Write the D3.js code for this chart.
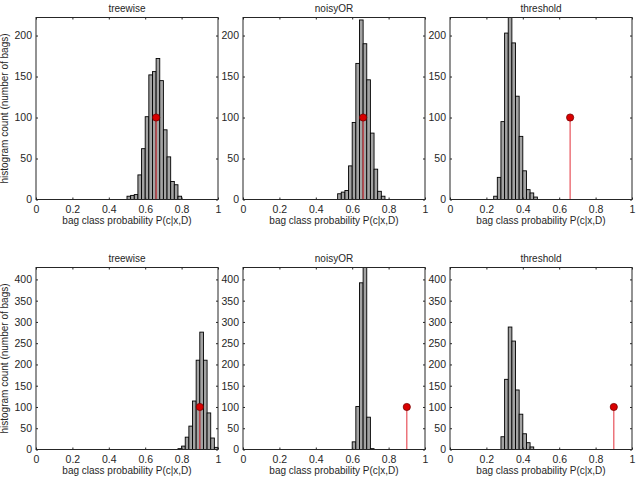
<!DOCTYPE html>
<html>
<head>
<meta charset="utf-8">
<script src="https://cdn.jsdelivr.net/npm/d3@7"></script>
<style>
  body { margin: 0; background: #fff; }
  svg text { font-family: "Liberation Sans", Arial, sans-serif; fill: #262626; }
</style>
</head>
<body>
<div id="chart"></div>
<script>
// panel titles, one per column
var titles = ['treewise', 'noisyOR', 'threshold'];

// y limits and ticks per row
var rowYMax = [222, 428];
var rowYTicks = [
  [0, 50, 100, 150, 200],
  [0, 50, 100, 150, 200, 250, 300, 350, 400]
];
var xTicks = [0, 0.2, 0.4, 0.6, 0.8, 1];
var binWidth = 0.02;

// red stem (true bag probability) per row
var stemX = [0.66, 0.9];
var stemY = 100;

// histogram bin centres and counts, row 1
var topTreeX   = [0.51, 0.53, 0.55, 0.57, 0.59, 0.61, 0.63, 0.65, 0.67, 0.69, 0.71, 0.73, 0.75, 0.77, 0.79];
var topTreeN   = [4, 5, 6, 30, 62, 101, 152, 156, 172, 145, 85, 52, 22, 18, 4];
var topNoisyX  = [0.53, 0.55, 0.57, 0.59, 0.61, 0.63, 0.65, 0.67, 0.69, 0.71, 0.73, 0.75, 0.77];
var topNoisyN  = [7, 9, 11, 41, 94, 166, 219, 190, 146, 81, 37, 10, 4];
var topThreshX = [0.25, 0.27, 0.29, 0.31, 0.33, 0.35, 0.37, 0.39, 0.41, 0.43, 0.45, 0.47];
var topThreshN = [4, 27, 95, 203, 245, 191, 126, 77, 35, 12, 8, 3];

// row 2
var botTreeX   = [0.79, 0.81, 0.83, 0.85, 0.87, 0.89, 0.91, 0.93, 0.95, 0.97, 0.99];
var botTreeN   = [2, 8, 29, 55, 114, 210, 276, 210, 86, 27, 5];
var botNoisyX  = [0.61, 0.63, 0.65, 0.67, 0.69, 0.71];
var botNoisyN  = [18, 101, 392, 470, 76, 2];
var botThreshX = [0.29, 0.31, 0.33, 0.35, 0.37, 0.39, 0.41, 0.43, 0.45];
var botThreshN = [30, 165, 288, 255, 140, 83, 37, 16, 6];

var hists = [
  [[topTreeX, topTreeN], [topNoisyX, topNoisyN], [topThreshX, topThreshN]],
  [[botTreeX, botTreeN], [botNoisyX, botNoisyN], [botThreshX, botThreshN]]
];

var W = 641, H = 481;
var colLeft = [36, 243, 450], plotW = 182;
var rowTop = [17.5, 267.5], plotH = 182;
var tickLen = 2;
var fmt = d3.format('~g');

var svg = d3.select('#chart').append('svg')
  .attr('width', W)
  .attr('height', H);

for (var r = 0; r < 2; r++) {
  for (var c = 0; c < 3; c++) {
    drawPanel(r, c);
  }
}

function drawPanel(r, c) {
  var x = d3.scaleLinear().domain([0, 1]).range([0, plotW]);
  var y = d3.scaleLinear().domain([0, rowYMax[r]]).range([plotH, 0]);
  var id = 'clip-' + r + '-' + c;

  var g = svg.append('g')
    .attr('transform', 'translate(' + colLeft[c] + ',' + rowTop[r] + ')');

  g.append('clipPath').attr('id', id)
    .append('rect')
      .attr('width', plotW)
      .attr('height', plotH);

  var bins = hists[r][c][0].map(function(cx, i) {
    return { x: cx, n: hists[r][c][1][i] };
  });

  var plot = g.append('g').attr('clip-path', 'url(#' + id + ')');

  plot.selectAll('rect.bar').data(bins)
    .enter()
      .append('rect')
        .attr('class', 'bar')
        .attr('x', function(d) { return x(d.x - binWidth / 2); })
        .attr('width', function(d) { return x(binWidth) - x(0); })
        .attr('y', function(d) { return y(d.n); })
        .attr('height', function(d) { return y(0) - y(d.n); })
        .attr('fill', '#a3a3a3')
        .attr('stroke', '#000')
        .attr('stroke-width', 0.9);

  // stem
  plot.append('line')
    .attr('x1', x(stemX[r])).attr('x2', x(stemX[r]))
    .attr('y1', y(0)).attr('y2', y(stemY))
    .attr('stroke', '#e8525a')
    .attr('stroke-width', 1.2);
  plot.append('circle')
    .attr('cx', x(stemX[r]))
    .attr('cy', y(stemY))
    .attr('r', 3.6)
    .attr('fill', '#d90000')
    .attr('stroke', '#7a0000')
    .attr('stroke-width', 0.8);

  // axes, ticks pointing inwards on all four sides
  var axB = g.append('g').attr('transform', 'translate(0,' + plotH + ')')
    .call(d3.axisBottom(x).tickValues(xTicks).tickFormat(fmt)
      .tickSizeInner(-tickLen).tickSizeOuter(0).tickPadding(5));
  var axT = g.append('g')
    .call(d3.axisTop(x).tickValues(xTicks).tickFormat('')
      .tickSizeInner(-tickLen).tickSizeOuter(0));
  var axL = g.append('g')
    .call(d3.axisLeft(y).tickValues(rowYTicks[r])
      .tickSizeInner(-tickLen).tickSizeOuter(0).tickPadding(4));
  var axR = g.append('g').attr('transform', 'translate(' + plotW + ',0)')
    .call(d3.axisRight(y).tickValues(rowYTicks[r]).tickFormat('')
      .tickSizeInner(-tickLen).tickSizeOuter(0));

  [axB, axT, axL, axR].forEach(function(a) {
    a.select('.domain').remove();
    a.selectAll('line').attr('stroke', '#262626');
    a.selectAll('text').attr('font-size', 10.5).attr('fill', '#262626');
  });
  axB.selectAll('text').attr('dy', '0.8em');

  g.append('rect')
    .attr('width', plotW)
    .attr('height', plotH)
    .attr('fill', 'none')
    .attr('stroke', '#262626')
    .attr('stroke-width', 1);

  g.append('text')
    .attr('x', plotW / 2)
    .attr('y', -6)
    .attr('text-anchor', 'middle')
    .attr('font-size', 10)
    .text(titles[c]);

  g.append('text')
    .attr('x', plotW / 2)
    .attr('y', plotH + 24)
    .attr('text-anchor', 'middle')
    .attr('font-size', 10)
    .text('bag class probability P(c|x,D)');

  if (c === 0) {
    g.append('text')
      .attr('transform', 'translate(' + (-28) + ',' + (plotH / 2) + ') rotate(-90)')
      .attr('text-anchor', 'middle')
      .attr('font-size', 10)
      .text('histogram count (number of bags)');
  }
}
</script>
</body>
</html>
